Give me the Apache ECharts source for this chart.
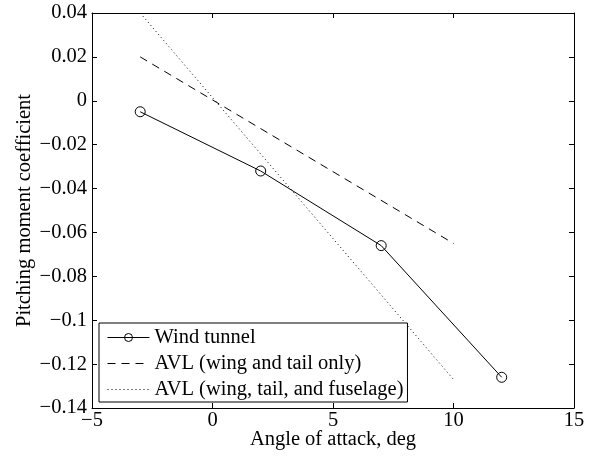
<!DOCTYPE html>
<html>
<head>
<meta charset="utf-8">
<title>Pitching moment coefficient vs angle of attack</title>
<script src="https://cdn.jsdelivr.net/npm/echarts@6/dist/echarts.min.js"></script>
<style>
  html, body { margin: 0; padding: 0; background: #fff; }
  #chart { width: 602px; height: 463px; }
</style>
</head>
<body>
<div id="chart"></div>
<script>
// Measured data: wind tunnel runs
const windAlpha = [-3, 2, 7, 12];
const windCm = [-0.005, -0.032, -0.066, -0.126];

// AVL predictions, wing and tail only
const avlWtAlpha = [-3, 10];
const avlWtCm = [0.02, -0.065];

// AVL predictions, wing, tail and fuselage
const avlWtfAlpha = [-3, 10];
const avlWtfCm = [0.04, -0.127];

// Axis ranges and tick spacing
const xRange = [-5, 15];
const xStep = 5;
const yRange = [-0.14, 0.04];
const yStep = 0.02;

const seriesNames = [
  'Wind tunnel',
  'AVL (wing and tail only)',
  'AVL (wing, tail, and fuselage)'
];

const FONT = '"Liberation Serif", "Times New Roman", serif';
const FS = 20.5;
const pairs = (xs, ys) => xs.map((x, i) => [x, ys[i]]);
const fmt = v => String(+(+v).toFixed(2)).replace('-', '\u2212');

const baseAxis = {
  axisLine: { show: true, onZero: false, lineStyle: { color: '#000', width: 1 } },
  axisTick: { show: true, inside: true, length: 5, lineStyle: { color: '#000', width: 1 } },
  splitLine: { show: false }
};

const chart = echarts.init(document.getElementById('chart'), null, { renderer: 'canvas' });

chart.setOption({
  animation: false,
  backgroundColor: '#fff',
  textStyle: { fontFamily: FONT },
  grid: { left: 92, right: 28, top: 13, bottom: 55, containLabel: false },
  xAxis: [
    Object.assign({}, baseAxis, {
      type: 'value', position: 'bottom',
      min: xRange[0], max: xRange[1], interval: xStep,
      name: 'Angle of attack, deg', nameLocation: 'middle', nameGap: 21,
      nameMoveOverlap: false,
      nameTextStyle: { fontFamily: FONT, fontSize: FS, color: '#000' },
      axisLabel: { fontFamily: FONT, fontSize: FS, color: '#000', margin: 2, formatter: fmt }
    }),
    Object.assign({}, baseAxis, {
      type: 'value', position: 'top',
      min: xRange[0], max: xRange[1], interval: xStep,
      axisLabel: { show: false }
    })
  ],
  yAxis: [
    Object.assign({}, baseAxis, {
      type: 'value', position: 'left',
      min: yRange[0], max: yRange[1], interval: yStep,
      name: 'Pitching moment coefficient', nameLocation: 'middle', nameGap: 57,
      nameMoveOverlap: false,
      nameTextStyle: { fontFamily: FONT, fontSize: FS, color: '#000' },
      axisLabel: { fontFamily: FONT, fontSize: FS, color: '#000', margin: 5, formatter: fmt }
    }),
    Object.assign({}, baseAxis, {
      type: 'value', position: 'right',
      min: yRange[0], max: yRange[1], interval: yStep,
      axisLabel: { show: false }
    })
  ],
  legend: {
    orient: 'vertical',
    left: 99, top: 323,
    padding: [4, 4, 2, 8],
    itemWidth: 42, itemHeight: 10, itemGap: 5,
    backgroundColor: '#fff',
    borderColor: '#000', borderWidth: 1,
    itemStyle: { borderWidth: 1 },
    lineStyle: { width: 1 },
    textStyle: { fontFamily: FONT, fontSize: FS, color: '#000' },
    data: [
      { name: seriesNames[0] },
      { name: seriesNames[1], itemStyle: { opacity: 0 } },
      { name: seriesNames[2], itemStyle: { opacity: 0 } }
    ]
  },
  series: [
    {
      name: seriesNames[0], type: 'line',
      data: pairs(windAlpha, windCm),
      symbol: 'circle', symbolSize: 10,
      itemStyle: { color: 'rgba(255,255,255,0)', borderColor: '#000', borderWidth: 1 },
      lineStyle: { color: '#000', width: 1, type: 'solid' },
      z: 3
    },
    {
      name: seriesNames[1], type: 'line',
      data: pairs(avlWtAlpha, avlWtCm),
      symbol: 'none',
      itemStyle: { color: '#000' },
      lineStyle: { color: '#000', width: 1, type: [8, 6] },
      z: 2
    },
    {
      name: seriesNames[2], type: 'line',
      data: pairs(avlWtfAlpha, avlWtfCm),
      symbol: 'none',
      itemStyle: { color: '#000' },
      lineStyle: { color: '#000', width: 1, type: [1, 3] },
      z: 2
    }
  ]
});
</script>
</body>
</html>
